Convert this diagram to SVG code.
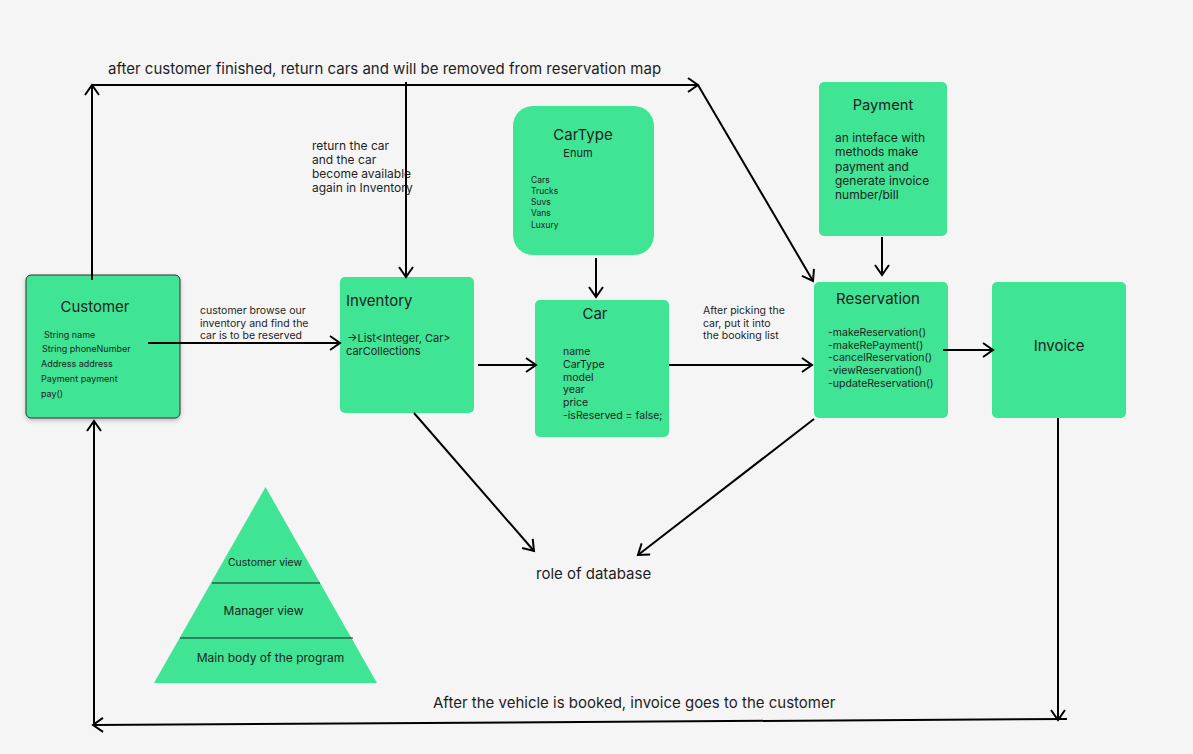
<svg xmlns="http://www.w3.org/2000/svg" width="1193" height="754" viewBox="0 0 1193 754">
<defs>
<marker id="arr" markerWidth="14" markerHeight="16" refX="11" refY="8" orient="auto" markerUnits="userSpaceOnUse">
<path d="M1,1 L11,8 L1,15" fill="none" stroke="#000" stroke-width="2"/>
</marker>
<filter id="sh" x="-10%" y="-10%" width="120%" height="130%">
<feDropShadow dx="0" dy="2" stdDeviation="2" flood-color="#000" flood-opacity="0.25"/>
</filter>
<style>
.node{fill:#40e495;}
text{font-family:Inter,"Noto Sans","Liberation Sans",sans-serif;fill:#1e1e1e;}
.t{font-size:15px;}
.s{font-size:10.5px;}
.cs{font-size:9px;}
.xs{font-size:8.5px;}
.m{font-size:12px;}
.l{font-size:15px;}
.c{stroke:#000;stroke-width:2;fill:none;}
</style>
</defs>
<rect width="1193" height="754" fill="#f5f5f5"/>

<g id="customer">
<rect class="node" x="26" y="275" width="154" height="143" rx="5" stroke="#333" stroke-width="1" filter="url(#sh)"/>
<text class="t" x="95" y="312" text-anchor="middle">Customer</text>
<text class="cs" x="44" y="338">String name</text>
<text class="cs" x="42" y="352">String phoneNumber</text>
<text class="cs" x="41" y="367">Address address</text>
<text class="cs" x="41" y="382">Payment payment</text>
<text class="cs" x="41" y="397">pay()</text>
</g>

<g id="inventory">
<rect class="node" x="340" y="277" width="134" height="136" rx="5"/>
<text class="t" x="346" y="306">Inventory</text>
<text font-size="11" x="347" y="342">→List&lt;Integer, Car&gt;</text>
<text font-size="11" x="346" y="355">carCollections</text>
</g>

<g id="cartype">
<rect class="node" x="513" y="106" width="141" height="149" rx="20"/>
<text class="t" x="583" y="140" text-anchor="middle">CarType</text>
<text font-size="11" x="578" y="157" text-anchor="middle">Enum</text>
<text class="xs" x="531" y="183">Cars</text>
<text class="xs" x="531" y="194">Trucks</text>
<text class="xs" x="531" y="205">Suvs</text>
<text class="xs" x="531" y="216">Vans</text>
<text class="xs" x="531" y="228">Luxury</text>
</g>

<g id="car">
<rect class="node" x="535" y="300" width="134" height="137" rx="5"/>
<text class="t" x="595" y="319" text-anchor="middle">Car</text>
<text class="s" x="563" y="355">name</text>
<text class="s" x="563" y="368">CarType</text>
<text class="s" x="563" y="381">model</text>
<text class="s" x="563" y="393">year</text>
<text class="s" x="563" y="406">price</text>
<text class="s" x="563" y="419">-isReserved = false;</text>
</g>

<g id="payment">
<rect class="node" x="819" y="82" width="128" height="154" rx="5"/>
<text font-size="14.7" x="883" y="110" text-anchor="middle">Payment</text>
<text class="m" x="835" y="142">an inteface with</text>
<text class="m" x="835" y="156">methods make</text>
<text class="m" x="835" y="171">payment and</text>
<text class="m" x="835" y="185">generate invoice</text>
<text class="m" x="835" y="199">number/bill</text>
</g>

<g id="reservation">
<rect class="node" x="814" y="282" width="134" height="136" rx="5"/>
<text class="t" x="878" y="304" text-anchor="middle">Reservation</text>
<text class="s" x="828" y="336">-makeReservation()</text>
<text class="s" x="828" y="349">-makeRePayment()</text>
<text class="s" x="828" y="361">-cancelReservation()</text>
<text class="s" x="828" y="374">-viewReservation()</text>
<text class="s" x="828" y="387">-updateReservation()</text>
</g>

<g id="invoice">
<rect class="node" x="992" y="282" width="134" height="136" rx="5"/>
<text class="t" x="1059" y="351" text-anchor="middle">Invoice</text>
</g>

<g id="pyramid">
<polygon class="node" points="265.5,487 377,683 154,683"/>
<line x1="212" y1="583" x2="320" y2="583" stroke="#1e1e1e" stroke-width="1"/>
<line x1="180" y1="638" x2="353" y2="638" stroke="#1e1e1e" stroke-width="1"/>
<text class="s" x="265" y="566" text-anchor="middle">Customer view</text>
<text class="m" x="263.5" y="615" text-anchor="middle">Manager view</text>
<text class="m" x="270.5" y="662" text-anchor="middle">Main body of the program</text>
</g>

<g id="labels">
<text class="l" x="108" y="74">after customer finished, return cars and will be removed from reservation map</text>
<text class="m" x="312" y="150">return the car</text>
<text class="m" x="312" y="164">and the car</text>
<text class="m" x="312" y="178">become available</text>
<text class="m" x="312" y="192">again in Inventory</text>
<text class="s" x="200" y="314">customer browse our</text>
<text class="s" x="200" y="327">inventory and find the</text>
<text class="s" x="200" y="339">car is to be reserved</text>
<text class="s" x="703" y="314">After picking the</text>
<text class="s" x="703" y="327">car, put it into</text>
<text class="s" x="703" y="339">the booking list</text>
<text class="l" x="536" y="579">role of database</text>
<text class="l" x="433" y="708">After the vehicle is booked, invoice goes to the customer</text>
</g>

<g id="connectors">
<line class="c" x1="148" y1="343" x2="340" y2="343" marker-end="url(#arr)"/>
<line class="c" x1="478" y1="365" x2="536" y2="365" marker-end="url(#arr)"/>
<line class="c" x1="596" y1="258" x2="596" y2="297" marker-end="url(#arr)"/>
<line class="c" x1="669" y1="365" x2="812" y2="365" marker-end="url(#arr)"/>
<line class="c" x1="882" y1="237" x2="882" y2="275" marker-end="url(#arr)"/>
<line class="c" x1="943" y1="350" x2="993" y2="350" marker-end="url(#arr)"/>
<line class="c" x1="414" y1="413" x2="534" y2="551" marker-end="url(#arr)"/>
<line class="c" x1="814" y1="419" x2="638" y2="555" marker-end="url(#arr)"/>
<line class="c" x1="92" y1="280" x2="92" y2="85" marker-end="url(#arr)"/>
<line class="c" x1="92" y1="85" x2="698" y2="85" marker-end="url(#arr)"/>
<line class="c" x1="698" y1="85" x2="813" y2="281" marker-end="url(#arr)"/>
<line class="c" x1="406" y1="82" x2="406" y2="277" marker-end="url(#arr)"/>
<line class="c" x1="1058" y1="418" x2="1058" y2="720" marker-end="url(#arr)"/>
<line class="c" x1="1067" y1="719" x2="93" y2="725" marker-end="url(#arr)"/>
<line class="c" x1="94" y1="725" x2="94" y2="421" marker-end="url(#arr)"/>
</g>
</svg>
